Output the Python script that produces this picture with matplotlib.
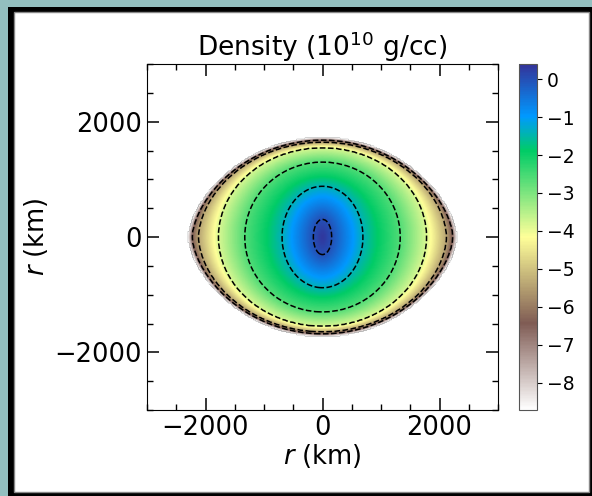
import numpy as np
import matplotlib.pyplot as plt
from matplotlib.patches import Rectangle

# log10 density (1e10 g/cc) on nested surfaces, centre -> stellar surface
levels = [0.35, 0.0, -1.4, -2.6, -3.8, -5.4, -6.4, -8.7]
# semi-axes (km) of those surfaces along x (equator) and y (pole)
semi_x = [0, 157, 690, 1330, 1780, 2120, 2230, 2310]
semi_y = [0, 308, 880, 1300, 1550, 1645, 1680, 1735]
# exponent on |y| : 2 = ellipse, smaller = pointed at the equator
y_exp = [2.0, 2.0, 2.0, 2.0, 2.0, 1.8, 1.65, 1.6]
# dashed contour levels
contour_levels = [-6.4, -5.4, -3.8, -2.6, -1.4, 0.0]
cbar_ticks = [0, -1, -2, -3, -4, -5, -6, -7, -8]

n = 300
xs = np.linspace(-3000, 3000, n)
X, Y = np.meshgrid(xs, xs)
t_idx = np.arange(len(levels))


def shape_value(t):
    a = np.maximum(np.interp(t, t_idx, semi_x), 1e-3)
    b = np.maximum(np.interp(t, t_idx, semi_y), 1e-3)
    q = np.interp(t, t_idx, y_exp)
    return (X / a) ** 2 + (np.abs(Y) / b) ** q


# find which surface each grid point sits on
lo = np.zeros_like(X)
hi = np.full_like(X, t_idx[-1], dtype=float)
for i in range(40):
    mid = 0.5 * (lo + hi)
    inside = shape_value(mid) <= 1
    hi = np.where(inside, mid, hi)
    lo = np.where(inside, lo, mid)
dens = np.interp(hi, t_idx, levels)
dens[shape_value(np.full_like(X, t_idx[-1], dtype=float)) > 1] = np.nan

fig = plt.figure(figsize=(5.92, 4.96), dpi=100)
fig.patch.set_facecolor('#93bfbf')
fig.patches.append(Rectangle((8 / 592, 0), 584 / 592, 489 / 496, transform=fig.transFigure,
                             facecolor='black', edgecolor='none', zorder=-2))
fig.patches.append(Rectangle((14 / 592, 4 / 496), 575 / 592, 480 / 496, transform=fig.transFigure,
                             facecolor='white', edgecolor='#888888', lw=1, zorder=-1))

ax = fig.add_axes([147 / 592, 86 / 496, 351 / 592, 346 / 496])
im = ax.imshow(dens, extent=[-3000, 3000, -3000, 3000], origin='lower', cmap='terrain_r',
               vmin=-8.72, vmax=0.4, aspect='auto', interpolation='bilinear')
ax.contour(X, Y, dens, levels=sorted(contour_levels), colors='k', linestyles='--', linewidths=1.1)

ax.set_xlim(-3000, 3000)
ax.set_ylim(-3000, 3000)
ax.set_xticks([-2000, 0, 2000])
ax.set_yticks([-2000, 0, 2000])
ax.set_xticks(np.arange(-3000, 3001, 500), minor=True)
ax.set_yticks(np.arange(-3000, 3001, 500), minor=True)
ax.tick_params(which='both', direction='in', top=True, right=True, labelsize=18.5)
ax.tick_params(which='major', length=8.5, width=1.1)
ax.tick_params(which='minor', length=4.3, width=1.0)
ax.set_xlabel('$r$ (km)', fontsize=18.5, labelpad=1)
ax.set_ylabel('$r$ (km)', fontsize=18.5, labelpad=3)
ax.set_title('Density (10$^{10}$ g/cc)', fontsize=19, pad=5)

cax = fig.add_axes([519 / 592, 86 / 496, 18 / 592, 346 / 496])
cb = fig.colorbar(im, cax=cax, ticks=cbar_ticks)
cb.ax.tick_params(labelsize=13.5)
cb.outline.set_edgecolor('#555555')

fig.savefig('out.png', dpi=100, facecolor=fig.get_facecolor())
